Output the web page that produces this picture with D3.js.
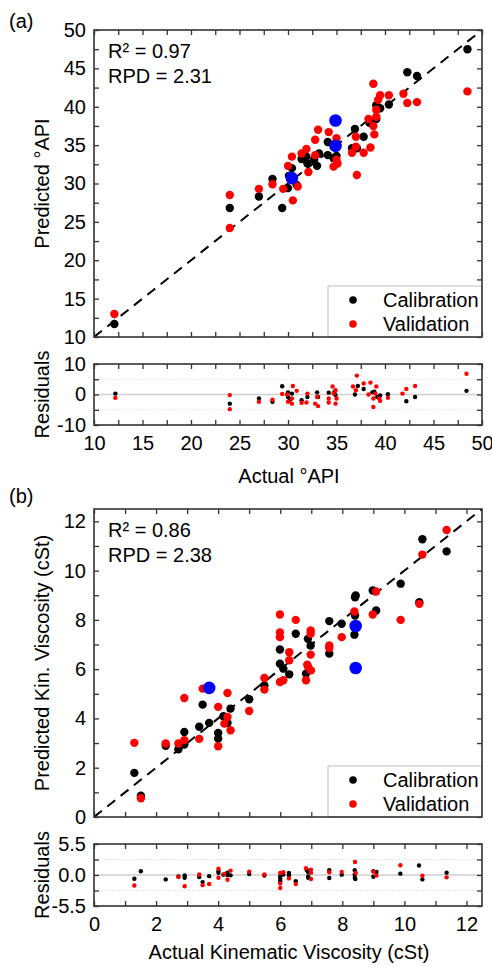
<!DOCTYPE html>
<html><head><meta charset="utf-8">
<script src="https://cdn.jsdelivr.net/npm/d3@7"></script>
<style>
body{margin:0;background:#fff}
svg{display:block}
text{font-family:"Liberation Sans",Arial,Helvetica,sans-serif;fill:#000}
</style>
</head><body>
<svg id="c" width="492" height="966"></svg>
<script>
// ---------- Panel (a): API gravity ----------
const apiCalibration = [[12.1,11.7],[24.0,26.8],[27.0,28.3],[28.4,30.6],[29.4,26.8],[30.0,29.4],[30.4,32.0],[30.1,31.0],[30.9,29.8],[31.4,33.2],[31.9,33.5],[32.0,32.6],[32.7,33.1],[33.0,32.3],[33.2,33.9],[34.1,35.4],[34.1,33.7],[34.7,33.3],[35.0,33.6],[36.9,37.1],[36.6,34.6],[37.1,34.6],[37.8,36.1],[38.4,37.9],[39.1,38.4],[39.1,40.2],[39.5,39.8],[40.4,40.3],[42.3,44.5],[43.3,44.0],[48.5,47.5]];
const apiValidation = [[12.1,13.0],[24.0,28.5],[24.0,24.2],[27.0,29.3],[28.4,29.9],[29.5,29.3],[30.0,32.3],[30.4,33.5],[30.5,27.8],[31.0,29.6],[31.4,33.9],[31.9,34.5],[32.1,31.5],[32.8,35.7],[33.1,37.0],[32.8,33.7],[34.2,36.7],[35.0,35.9],[34.7,34.8],[35.0,33.1],[34.7,32.2],[35.1,32.6],[37.0,36.1],[37.0,34.8],[36.6,34.0],[37.8,34.0],[38.5,34.7],[37.1,31.1],[38.3,38.4],[38.8,37.5],[38.8,43.0],[39.1,38.7],[39.1,39.6],[39.3,40.9],[39.5,41.5],[40.4,41.5],[41.9,41.7],[42.3,40.5],[43.3,40.6],[48.5,42.0],[38.9,36.4]];
const apiHighlight = [[30.4,30.7],[34.9,38.2],[34.9,34.9]];
const apiResidCalibration = [[12.2,0.3],[24.0,-3.0],[27.0,-1.3],[28.4,-2.4],[29.4,2.7],[30.0,-0.8],[30.0,0.7],[30.4,0.3],[30.2,-1.7],[31.4,-1.9],[32.0,-0.8],[33.0,0.7],[33.1,-0.8],[34.2,0.6],[34.9,-0.2],[34.8,0.9],[36.9,0.0],[37.2,2.8],[37.8,1.8],[38.7,0.7],[38.9,0.9],[39.2,-0.8],[39.5,-0.3],[40.3,0.1],[42.2,-2.2],[43.1,-0.8],[48.4,1.2]];
const apiResidValidation = [[12.2,-1.1],[24.0,-0.2],[24.0,-4.8],[27.0,-2.4],[28.4,-1.7],[29.4,0.2],[29.9,0.0],[30.0,-2.4],[30.4,-1.3],[30.4,-3.0],[30.5,2.8],[30.9,1.2],[31.4,-2.7],[31.9,-2.6],[32.0,0.3],[32.8,-3.0],[33.0,-0.8],[33.1,-3.8],[34.2,-1.3],[34.2,-2.6],[34.6,2.6],[34.9,1.4],[34.7,0.3],[34.9,-3.0],[35.0,-1.3],[36.7,2.6],[37.0,1.4],[37.1,6.2],[37.8,3.6],[38.5,3.9],[38.3,0.0],[38.8,-1.3],[38.8,-4.1],[39.0,0.3],[39.1,2.6],[39.4,-1.3],[39.5,-2.1],[40.3,-1.1],[41.8,0.3],[42.2,1.8],[43.1,2.8],[48.4,6.8]];
const apiXTicks = [10,12.5,15,17.5,20,22.5,25,27.5,30,32.5,35,37.5,40,42.5,45,47.5,50];
const apiXLabels = [10,15,20,25,30,35,40,45,50];
const apiYTicks = [10,12.5,15,17.5,20,22.5,25,27.5,30,32.5,35,37.5,40,42.5,45,47.5,50];
const apiYLabels = [10,15,20,25,30,35,40,45,50];
const apiResidTicks = [-10,-5,0,5,10];
const apiResidLabels = [-10,0,10];
const apiStats = ["R\u00B2 = 0.97","RPD = 2.31"];

// ---------- Panel (b): kinematic viscosity ----------
const kvCalibration = [[1.30,1.79],[1.51,0.86],[2.31,2.89],[2.72,2.75],[2.91,3.45],[2.91,2.94],[3.39,3.66],[3.50,4.56],[3.71,3.82],[4.0,3.41],[4.0,3.18],[4.17,4.09],[4.30,3.82],[4.40,4.40],[5.0,4.78],[5.49,5.34],[5.99,6.80],[5.99,6.22],[6.10,6.02],[6.29,5.79],[6.50,7.44],[6.83,5.82],[6.89,7.23],[6.98,6.96],[7.58,7.95],[7.58,6.63],[7.98,7.84],[8.41,8.92],[8.43,8.99],[8.41,8.18],[8.39,7.40],[8.98,9.19],[9.09,8.38],[9.88,9.47],[10.48,8.72],[10.58,11.27],[11.36,10.78]];
const kvValidation = [[1.30,3.01],[1.51,0.76],[2.31,2.98],[2.72,2.98],[2.91,3.12],[2.91,4.83],[3.39,3.17],[3.50,5.21],[4.0,4.47],[4.0,2.87],[4.20,3.79],[4.30,5.03],[4.30,4.06],[4.40,3.52],[5.0,4.30],[5.49,5.64],[5.49,5.17],[5.99,8.22],[5.99,7.49],[5.99,7.30],[5.99,5.48],[6.10,5.55],[6.29,6.69],[6.29,6.36],[6.50,8.00],[6.83,5.55],[6.87,6.18],[6.90,6.09],[6.98,7.57],[6.98,7.44],[6.98,6.59],[6.99,5.95],[7.58,6.96],[7.58,6.86],[7.98,7.30],[8.39,8.34],[8.98,8.22],[9.09,9.15],[9.88,8.0],[10.48,8.65],[10.58,10.65],[11.36,11.65]];
const kvHighlight = [[3.71,5.24],[8.43,7.75],[8.43,6.05]];
const kvResidCalibration = [[1.30,-0.66],[1.51,0.66],[2.31,-0.78],[2.72,-0.24],[2.92,-0.1],[2.92,-0.5],[3.39,-0.36],[3.50,-1.26],[3.71,-0.2],[4.01,0.7],[4.01,0.4],[4.17,0.06],[4.30,0.4],[4.30,0.0],[4.40,-0.06],[5.0,0.18],[5.49,-0.1],[6.0,-0.2],[6.0,-0.66],[6.0,-1.1],[6.1,0.1],[6.28,0.36],[6.28,-0.06],[6.5,-1.1],[6.86,0.84],[6.9,0.54],[6.9,-0.24],[6.9,-0.5],[7.58,0.84],[7.58,-0.54],[7.98,0.06],[8.4,0.84],[8.4,0.06],[8.4,-0.54],[8.42,-0.72],[9.0,0.66],[9.0,-0.3],[9.1,0.54],[9.87,0.24],[10.47,1.68],[10.58,-0.78],[11.36,0.42]];
const kvResidValidation = [[1.30,-1.86],[2.72,-0.36],[2.92,-2.0],[3.39,0.1],[3.50,-1.8],[3.71,-1.6],[4.01,1.1],[4.01,-0.5],[4.2,0.2],[4.3,-0.84],[4.4,0.78],[5.0,0.6],[5.49,0.1],[6.0,0.36],[6.0,-1.5],[6.0,-2.3],[6.1,0.48],[6.28,-0.6],[6.5,-1.6],[6.83,1.2],[6.99,0.96],[6.99,0.42],[6.99,-0.72],[7.58,0.48],[7.98,0.54],[8.41,2.3],[8.43,0.36],[9.0,0.6],[9.1,-0.1],[9.87,1.74],[10.58,-0.12],[11.36,-0.42]];
const kvXTicks = [0,1,2,3,4,5,6,7,8,9,10,11,12];
const kvXLabels = [0,2,4,6,8,10,12];
const kvYTicks = [0,1,2,3,4,5,6,7,8,9,10,11,12];
const kvYLabels = [0,2,4,6,8,10,12];
const kvResidTicks = [-5.5,-2.75,0,2.75,5.5];
const kvResidLabels = [-5.5,0,5.5];
const kvStats = ["R\u00B2 = 0.86","RPD = 2.38"];

const seriesNames = ["Calibration","Validation"];
const seriesColors = ["#000000","#ff0000"];
const highlightColor = "#0000ff";

// ---------- drawing ----------
const svg = d3.select("#c");
const INK = "#333";
const FS = 20;
const LEFT = 94, RIGHT = 482;
let clipId = 0;

function has(arr, v){ return arr.some(a => Math.abs(a - v) < 1e-9); }

function makePanel(o){
  const x = d3.scaleLinear().domain(o.xDomain).range([LEFT, RIGHT]);
  const y = d3.scaleLinear().domain(o.yDomain).range([o.bottom, o.top]);
  const g = svg.append("g");
  const id = "clip" + (clipId++);
  svg.append("clipPath").attr("id", id).append("rect")
    .attr("x", LEFT).attr("y", o.top).attr("width", RIGHT - LEFT).attr("height", o.bottom - o.top);
  return {x, y, g, clip: "url(#" + id + ")", o};
}

function drawAxes(p, xTicks, xLabels, yTicks, yLabels, yFmt, showX){
  const {x, y, g, o} = p;
  const xf = v => (showX && has(xLabels, v)) ? String(v) : "";
  const yf = v => has(yLabels, v) ? yFmt(v) : "";
  const style = sel => {
    sel.select(".domain").remove();
    sel.selectAll(".tick line").attr("stroke", INK).attr("stroke-width", 1.3);
    sel.selectAll(".tick text").attr("font-size", FS).attr("fill", "#000")
      .attr("font-family", '"Liberation Sans",Arial,sans-serif');
  };
  g.append("g").attr("transform", `translate(0,${o.bottom})`)
    .call(d3.axisBottom(x).tickValues(xTicks).tickSize(-5).tickPadding(10.5).tickFormat(xf)).call(style);
  g.append("g").attr("transform", `translate(0,${o.top})`)
    .call(d3.axisTop(x).tickValues(xTicks).tickSize(-5).tickFormat(() => "")).call(style);
  g.append("g").attr("transform", `translate(${LEFT},0)`)
    .call(d3.axisLeft(y).tickValues(yTicks).tickSize(-5).tickPadding(8).tickFormat(yf)).call(style);
  g.append("g").attr("transform", `translate(${RIGHT},0)`)
    .call(d3.axisRight(y).tickValues(yTicks).tickSize(-5).tickFormat(() => "")).call(style);
}

function drawFrame(p){
  p.g.append("rect").attr("x", LEFT).attr("y", p.o.top)
    .attr("width", RIGHT - LEFT).attr("height", p.o.bottom - p.o.top)
    .attr("fill", "none").attr("stroke", INK).attr("stroke-width", 1.6);
}

function dots(p, data, color, r){
  p.g.append("g").attr("clip-path", p.clip).selectAll("circle").data(data).join("circle")
    .attr("cx", d => p.x(d[0])).attr("cy", d => p.y(d[1])).attr("r", r).attr("fill", color);
}

function mainPanel(o, cal, val, hi, xTicks, yTicks, yLabels, stats){
  const p = makePanel(o);
  // 1:1 line
  const lo = Math.min(o.xDomain[0], o.yDomain[0]), hiV = Math.max(o.xDomain[1], o.yDomain[1]);
  p.g.append("line").attr("clip-path", p.clip)
    .attr("x1", p.x(lo)).attr("y1", p.y(lo)).attr("x2", p.x(hiV)).attr("y2", p.y(hiV))
    .attr("stroke", "#000").attr("stroke-width", 2).attr("stroke-dasharray", "10,7");
  dots(p, cal, seriesColors[0], 4.2);
  dots(p, val, seriesColors[1], 4.2);
  dots(p, hi, highlightColor, 6.3);
  drawAxes(p, xTicks, [], yTicks, yLabels, v => String(v), false);
  // stats
  stats.forEach((s, i) => {
    p.g.append("text").attr("x", LEFT + 14).attr("y", o.top + 28 + i * 25)
      .attr("font-size", FS).text(s);
  });
  // legend
  const lg = p.g.append("g");
  lg.append("rect").attr("x", RIGHT - 154).attr("y", o.bottom - 51)
    .attr("width", 154).attr("height", 51).attr("fill", "#fff").attr("stroke", "#c8c8c8").attr("stroke-width", 1.2);
  seriesNames.forEach((n, i) => {
    const by = o.bottom - 30 + i * 24;
    lg.append("circle").attr("cx", RIGHT - 129).attr("cy", by - 7).attr("r", 3.8).attr("fill", seriesColors[i]);
    lg.append("text").attr("x", RIGHT - 99).attr("y", by).attr("font-size", FS).text(n);
  });
  drawFrame(p);
  return p;
}

function residPanel(o, cal, val, xTicks, xLabels, yTicks, yLabels, yFmt, gridLines){
  const p = makePanel(o);
  gridLines.forEach(v => {
    p.g.append("line").attr("x1", LEFT).attr("x2", RIGHT).attr("y1", p.y(v)).attr("y2", p.y(v))
      .attr("stroke", v === 0 ? "#cfcfcf" : "#dcdcdc").attr("stroke-width", v === 0 ? 1.6 : 1)
      .attr("stroke-dasharray", v === 0 ? null : "1.5,2");
  });
  dots(p, cal, seriesColors[0], 2.2);
  dots(p, val, seriesColors[1], 2.2);
  drawAxes(p, xTicks, xLabels, yTicks, yLabels, yFmt, true);
  drawFrame(p);
  return p;
}

function vTitle(txt, cy){
  svg.append("text").attr("transform", `translate(49,${cy}) rotate(-90)`)
    .attr("text-anchor", "middle").attr("font-size", FS).text(txt);
}
function hTitle(txt, baseline){
  svg.append("text").attr("x", 289).attr("y", baseline).attr("text-anchor", "middle")
    .attr("font-size", FS).text(txt);
}

// Panel (a)
mainPanel({xDomain:[10,50], yDomain:[10,50], top:30, bottom:337},
  apiCalibration, apiValidation, apiHighlight, apiXTicks, apiYTicks, apiYLabels, apiStats);
residPanel({xDomain:[10,50], yDomain:[-10,10], top:364, bottom:425},
  apiResidCalibration, apiResidValidation, apiXTicks, apiXLabels, apiResidTicks, apiResidLabels,
  v => String(v), [-5, 0, 5]);
svg.append("text").attr("x", 9).attr("y", 28).attr("font-size", FS).text("(a)");
vTitle("Predicted \u00B0API", 183.5);
vTitle("Residuals", 394.5);
hTitle("Actual \u00B0API", 483);

// Panel (b)
mainPanel({xDomain:[0,12.5], yDomain:[0,12.5], top:509, bottom:817},
  kvCalibration, kvValidation, kvHighlight, kvXTicks, kvYTicks, kvYLabels, kvStats);
residPanel({xDomain:[0,12.5], yDomain:[-5.5,5.5], top:844, bottom:906},
  kvResidCalibration, kvResidValidation, kvXTicks, kvXLabels, kvResidTicks, kvResidLabels,
  v => v.toFixed(1), [-2.75, 0, 2.75]);
svg.append("text").attr("x", 9).attr("y", 503).attr("font-size", FS).text("(b)");
vTitle("Predicted Kin. Viscosity (cSt)", 663);
vTitle("Residuals", 875);
hTitle("Actual Kinematic Viscosity (cSt)", 959);
</script>
</body></html>
